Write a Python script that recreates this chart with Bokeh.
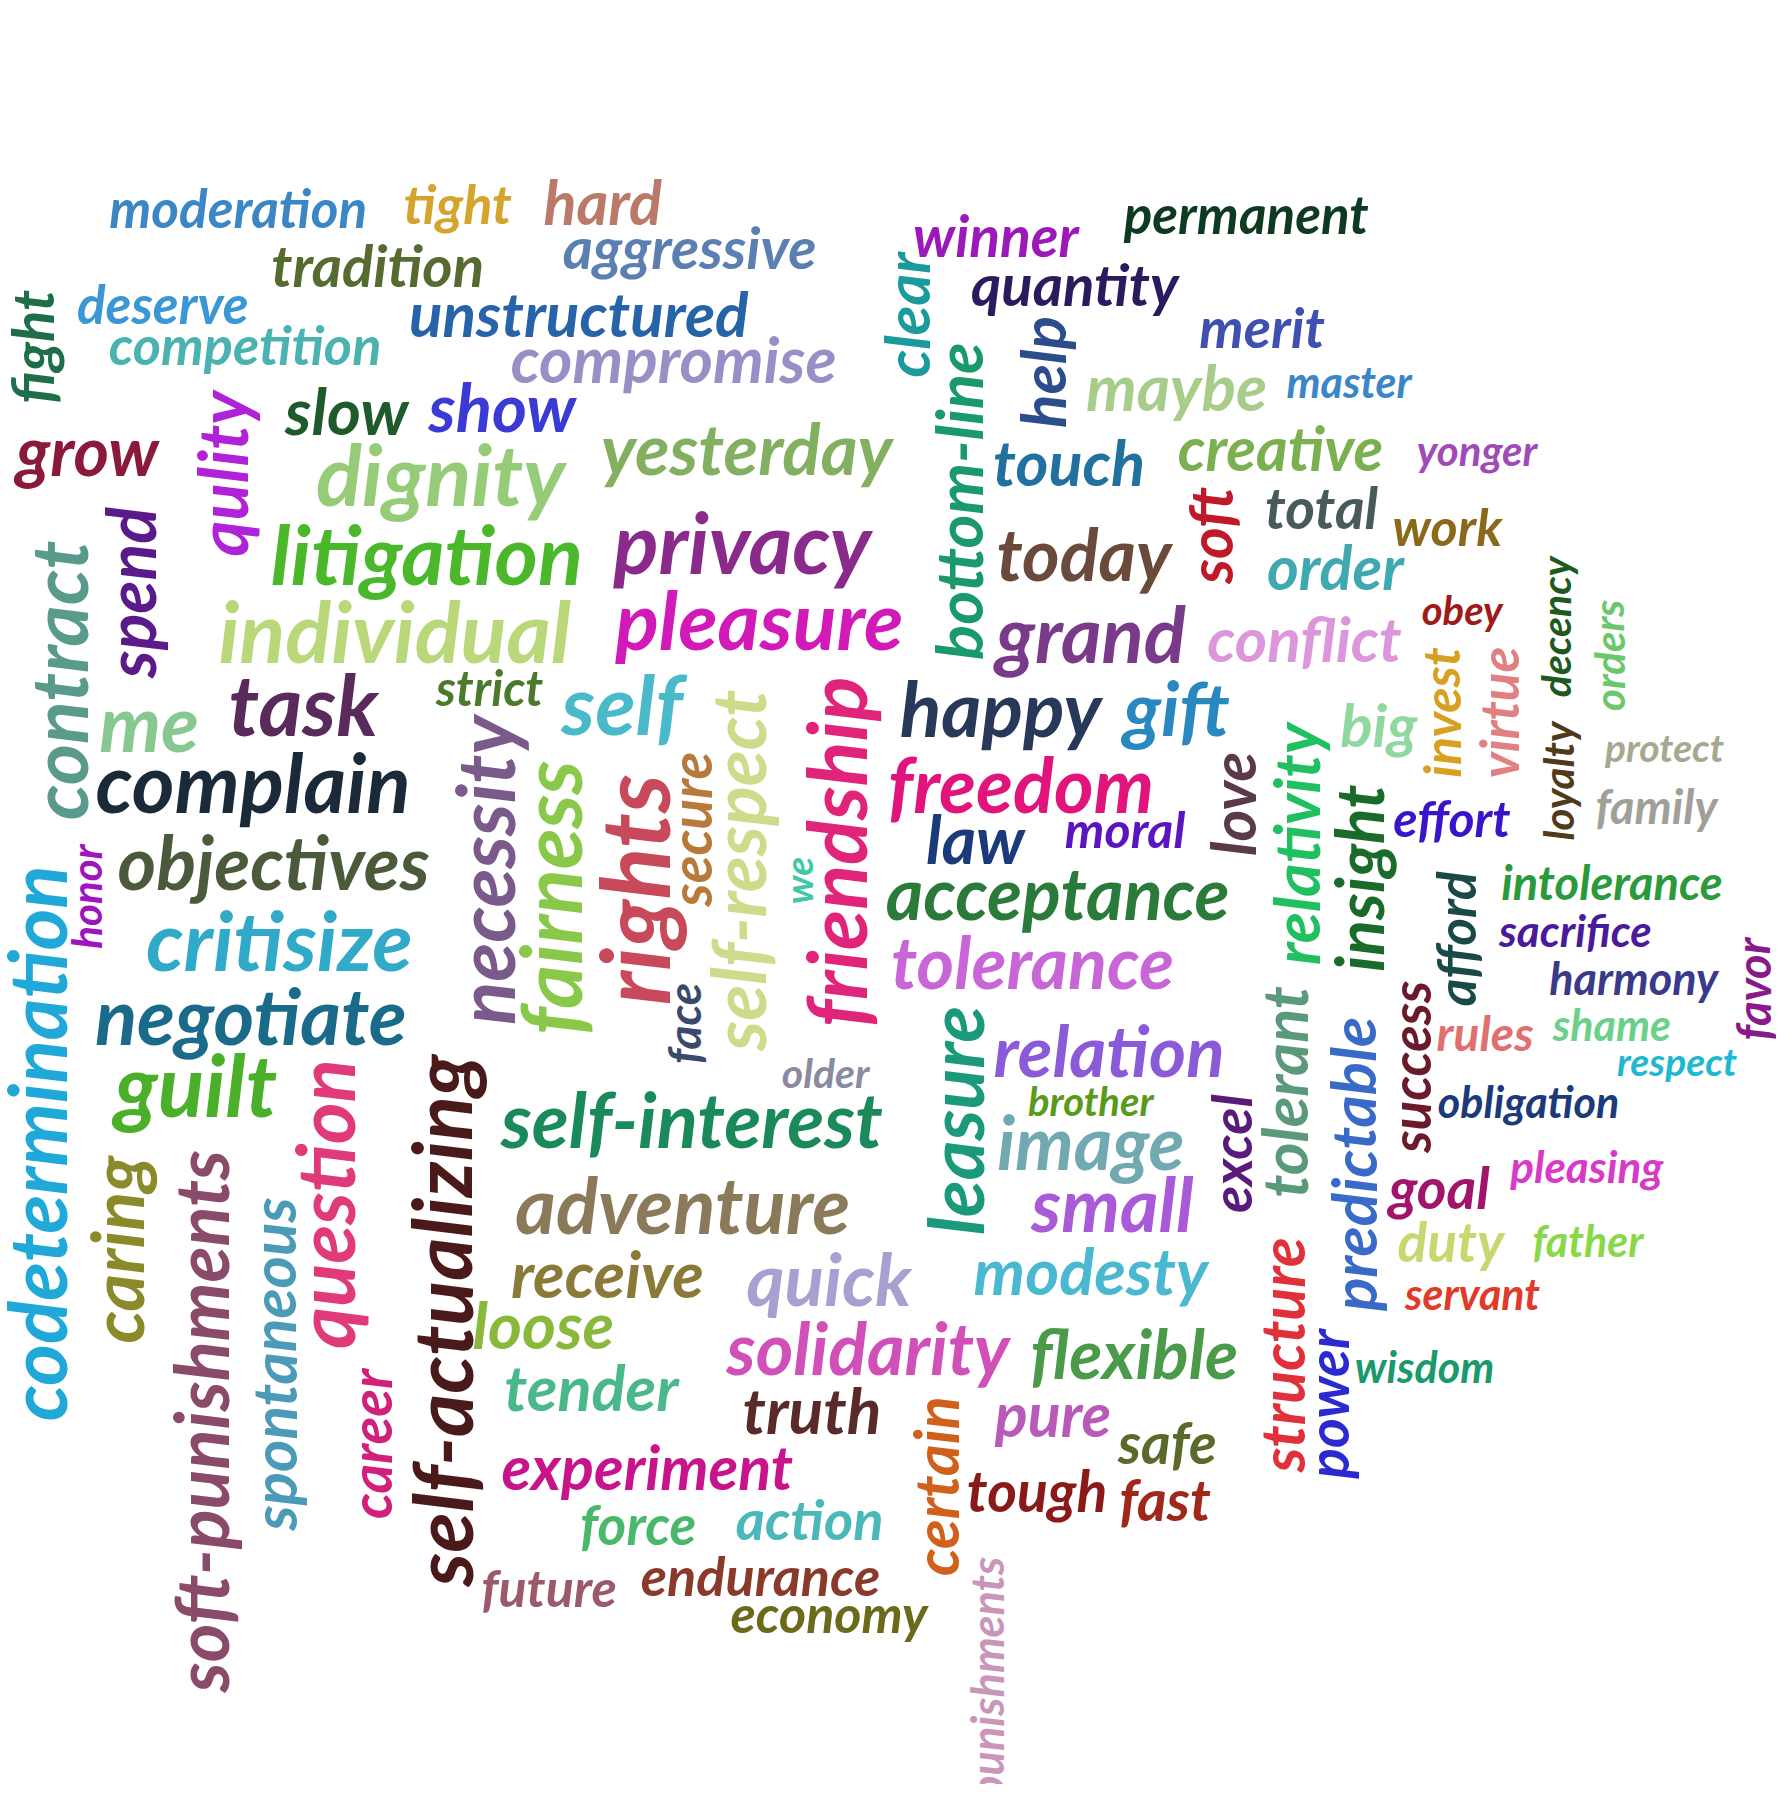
from bokeh.plotting import figure
from bokeh.models import ColumnDataSource, Range1d
from bokeh.core.properties import value
from bokeh.embed import file_html
from bokeh.resources import INLINE

# words of the cloud
words = ["moderation", "tight", "hard", "aggressive", "tradition", "winner", "permanent", "quantity",
         "deserve", "unstructured", "competition", "compromise", "merit", "clear", "help", "maybe",
         "master", "fight", "slow", "show", "qulity", "grow", "dignity", "yesterday", "bottom-line",
         "touch", "creative", "yonger", "soft", "total", "work", "spend", "contract", "litigation",
         "privacy", "today", "order", "decency", "orders", "individual", "pleasure", "grand",
         "conflict", "obey", "invest", "virtue", "loyalty", "me", "task", "strict", "self",
         "self-respect", "friendship", "happy", "gift", "big", "protect", "necessity", "fairness",
         "rights", "secure", "complain", "freedom", "love", "relativity", "insight", "family",
         "effort", "law", "moral", "objectives", "honor", "we", "acceptance", "intolerance",
         "afford", "codetermination", "critisize", "tolerance", "sacrifice", "favor", "harmony",
         "negotiate", "tolerant", "success", "face", "leasure", "relation", "predictable", "rules",
         "shame", "respect", "older", "guilt", "question", "self-actualizing", "brother",
         "self-interest", "obligation", "image", "excel", "soft-punishments", "caring",
         "spontaneous", "pleasing", "goal", "small", "adventure", "duty", "father", "receive",
         "quick", "modesty", "structure", "servant", "loose", "solidarity", "flexible", "power",
         "wisdom", "tender", "truth", "career", "certain", "pure", "safe", "experiment", "tough",
         "fast", "force", "action", "endurance", "future", "economy", "punishments"]

# layout: centre x, centre y, length along the word, vertical flag
cx = [215, 407, 534, 610, 337, 878, 1097, 947, 149, 513, 221, 596, 1111, 800, 918, 1036,
      1187, 34, 310, 446, 200, 83, 392, 660, 845, 942, 1127, 1299, 1065, 1163, 1273, 120, 57,
      380, 656, 955, 1175, 1368, 1414, 352, 671, 961, 1148, 1286, 1267, 1318, 1370, 137, 272,
      435, 551, 652, 737, 882, 1036, 1213, 1463, 430, 487, 560, 610, 228, 900, 1085, 1140,
      1195, 1456, 1277, 860, 991, 246, 82, 705, 932, 1417, 1280, 38, 251, 910, 1385, 1540,
      1436, 226, 1130, 1240, 605, 842, 977, 1190, 1306, 1417, 1474, 729, 178, 290, 392, 961,
      612, 1344, 961, 1083, 182, 108, 245, 1395, 1266, 980, 604, 1276, 1396, 538, 732, 961,
      1128, 1295, 482, 766, 999, 1168, 1253, 524, 717, 330, 825, 928, 1028, 573, 914, 1026,
      565, 715, 672, 487, 732, 870]
cy = [188, 185, 183, 222, 238, 212, 193, 255, 272, 280, 308, 320, 292, 282, 332, 345, 340,
      310, 365, 362, 421, 400, 420, 398, 445, 410, 398, 400, 475, 450, 467, 525, 602, 490, 480,
      490, 502, 555, 580, 558, 548, 560, 565, 540, 630, 630, 690, 638, 622, 608, 622, 768, 752,
      625, 625, 640, 660, 768, 792, 785, 732, 690, 692, 710, 745, 775, 712, 722, 740, 732, 760,
      791, 777, 787, 778, 828, 1007, 828, 847, 820, 872, 862, 895, 962, 940, 902, 987, 925,
      1025, 910, 903, 935, 945, 955, 1060, 1162, 970, 985, 970, 1005, 1016, 1250, 1100, 1200,
      1027, 1045, 1060, 1060, 1092, 1092, 1120, 1125, 1118, 1192, 1138, 1165, 1185, 1190, 1235,
      1202, 1220, 1240, 1270, 1307, 1243, 1268, 1290, 1310, 1318, 1340, 1335, 1385, 1395, 1418,
      1475]
length = [240, 98, 108, 234, 195, 153, 225, 190, 162, 313, 253, 308, 117, 115, 105, 167, 115,
          104, 116, 137, 153, 133, 225, 270, 300, 140, 190, 112, 90, 103, 103, 160, 255, 284,
          237, 160, 130, 130, 104, 325, 267, 173, 177, 76, 120, 120, 110, 95, 135, 96, 113, 335,
          325, 185, 97, 70, 110, 285, 255, 210, 145, 293, 250, 100, 220, 170, 112, 110, 90, 113,
          292, 98, 45, 315, 205, 127, 515, 247, 265, 140, 95, 156, 288, 195, 160, 75, 215, 215,
          270, 92, 109, 112, 82, 147, 270, 485, 117, 355, 168, 173, 112, 500, 170, 310, 140, 92,
          150, 308, 97, 102, 183, 151, 218, 215, 124, 135, 258, 192, 140, 130, 162, 125, 140,
          165, 110, 90, 273, 128, 83, 110, 135, 221, 125, 185, 225]
vertical = ["clear", "help", "fight", "qulity", "bottom-line", "soft", "spend", "contract",
            "decency", "orders", "invest", "virtue", "loyalty", "self-respect", "friendship",
            "necessity", "fairness", "rights", "secure", "love", "relativity", "insight", "honor",
            "we", "afford", "codetermination", "favor", "tolerant", "success", "face", "leasure",
            "predictable", "question", "self-actualizing", "excel", "soft-punishments", "caring",
            "spontaneous", "structure", "power", "career", "certain", "punishments"]
colors = ["#3b86c4", "#d4a42c", "#b97a6a", "#5b7fb0", "#556b2f", "#9b19b8", "#0e3a22", "#2c1a5e",
          "#3a96d4", "#2663a8", "#4ab3b0", "#9a8ec6", "#4050b0", "#1a9a9a", "#2c4d8c", "#a8cc8a",
          "#3a86c8", "#1e6e4a", "#1e5a2a", "#3a3ad4", "#b022d8", "#8a1a3a", "#96cc78", "#82b060",
          "#1a9a6a", "#2070a0", "#7ab050", "#a04ab8", "#c01a2a", "#485a5a", "#8a6a1a", "#5a1a8a",
          "#5a9a8a", "#4ab82a", "#8a2a8a", "#6a4a3a", "#40a8b0", "#1e5a1e", "#6ac86a", "#b8d87a",
          "#d21ab8", "#7a3a8a", "#dc96dc", "#a01a1a", "#d8a020", "#e08080", "#503a1a", "#86c890",
          "#5a2a5a", "#4a7a2a", "#4abaca", "#ccdc8a", "#e0247a", "#283858", "#2a88c0", "#90d8a0",
          "#a8a890", "#7a5a8a", "#8ac84a", "#c84a5a", "#b87a3a", "#1a2a38", "#e0147a", "#5a3a4a",
          "#20c060", "#1a6a2a", "#a0a098", "#3a14c8", "#1a3a7a", "#5a14c0", "#4a5a3a", "#a014c0",
          "#40c8a8", "#2a7a3a", "#2a9a3a", "#1a4a48", "#20a8d8", "#30aac8", "#c866d8", "#4a1a9a",
          "#8a1a8a", "#3a3a8a", "#1a6a8a", "#5a9a7a", "#6a1a2a", "#3a4a6a", "#1a9a7a", "#8a5ad8",
          "#3a6ac8", "#e07070", "#6ad08a", "#20b8d0", "#8a8aa0", "#4ab02a", "#e03a7a", "#4a1a1a",
          "#5a9a1a", "#1a8a5a", "#1a3a7a", "#70aab0", "#5a1a7a", "#8a4a6a", "#8a8a2a", "#4a9ab8",
          "#d83ac8", "#a0146a", "#a85ad8", "#8a7a5a", "#c8d870", "#8ad84a", "#8a7a3a", "#a8a0d0",
          "#4ab8d0", "#e0303a", "#e03a2a", "#8ab83a", "#d050b8", "#4a9a4a", "#2a2ad0", "#1a9a6a",
          "#4ab88a", "#5a2a2a", "#d0207a", "#d0601a", "#b85ab8", "#5a6a2a", "#c8148a", "#8a1a1a",
          "#a0281a", "#4ab86a", "#4ab8b8", "#8a3a2a", "#9a5a6a", "#6a6a1a", "#c896b8"]

# rough advance widths (em) of Lato bold, to size each word to its length
char_w = dict(a=.52, b=.57, c=.46, d=.57, e=.53, f=.34, g=.51, h=.57, i=.26, j=.26, k=.52,
              l=.26, m=.86, n=.57, o=.57, p=.57, q=.57, r=.38, s=.43, t=.36, u=.57, v=.51,
              w=.78, x=.50, y=.51, z=.45)
char_w["-"] = .34

scale = 8 / 7
sizes = ["%dpx" % round(l / sum(char_w.get(c, .5) for c in w) * scale)
         for w, l in zip(words, length)]
angles = [1.5708 if w in vertical else 0.0 for w in words]

source = ColumnDataSource(dict(x=cx, y=cy, text=words, size=sizes, angle=angles, color=colors))

p = figure(width=1776, height=1784, output_backend="svg", toolbar_location=None,
           x_range=Range1d(7, 1561), y_range=Range1d(1568, 7), min_border=0)
p.axis.visible = False
p.grid.visible = False
p.outline_line_color = None

p.text(x="x", y="y", text="text", angle="angle", text_color="color", text_font_size="size",
       text_font=value("Lato"), text_font_style="bold italic", text_align="center",
       text_baseline="middle", source=source)

open("out.html", "w").write(file_html(p, INLINE))
